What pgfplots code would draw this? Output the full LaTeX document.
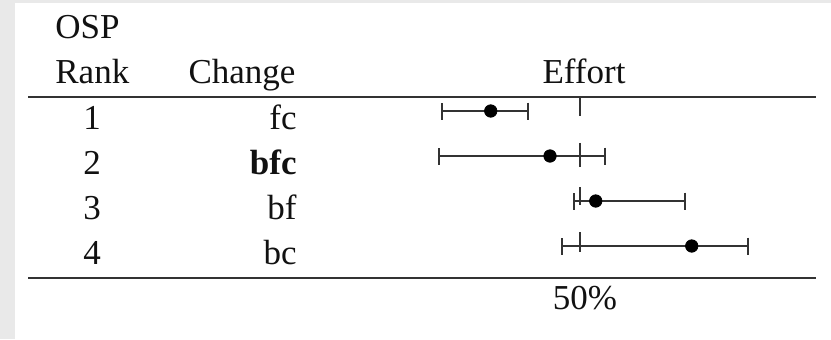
\documentclass[border=0pt]{standalone}
\usepackage{pgfplots}
\pgfplotsset{compat=1.18}
\usepackage{fontspec}
\setmainfont{Liberation Serif}
\definecolor{bggray}{HTML}{E9E9E9}
\definecolor{rulecol}{HTML}{333333}
\definecolor{txt}{HTML}{111111}
\newcommand\tf{\fontsize{17.5}{21}\selectfont}
\begin{document}
\begin{tikzpicture}
\begin{axis}[
  scale only axis, width=415.5pt, height=169.5pt,
  xmin=-46.6667, xmax=91.8333,
  ymin=-1.46667, ymax=6.06667, y dir=reverse,
  hide axis, clip=false,
]
\fill[bggray] (axis cs:-46.6667,-1.46667) rectangle (axis cs:91.8333,6.06667);
\fill[white] (axis cs:-44.1667,-1.4) rectangle (axis cs:91.8333,6.06667);
% rules
\addplot[rulecol, line width=1.1pt] coordinates {(-42,0.682) (89.33,0.682)};
\addplot[rulecol, line width=1.1pt] coordinates {(-42,4.704) (89.33,4.704)};
% 50% reference segments
\addplot[rulecol, line width=0.85pt, unbounded coords=jump] coordinates {
  (50,0.69) (50,1.11) (50,nan)
  (50,1.71) (50,2.25) (50,nan)
  (50,2.69) (50,3.09) (50,nan)
  (50,3.69) (50,4.13)};
% estimates with intervals
\addplot[only marks, mark=*, mark size=3.1pt, black,
  error bars/.cd, x dir=both, x explicit, error mark=|,
  error bar style={line width=0.85pt, rulecol},
  error mark options={rulecol, line width=1pt, mark size=4.25pt}]
coordinates {
  (35.12,1) += (6.27,0) -= (8.17,0)
  (45.00,2) += (9.17,0) -= (18.45,0)
  (52.62,3) += (14.88,0) -= (3.62,0)
  (68.62,4) += (9.43,0) -= (21.67,0)
};
% header
\node[anchor=base west, inner sep=0, font=\tf, text=txt] at (axis cs:-37.5,-0.622) {OSP};
\node[anchor=base west, inner sep=0, font=\tf, text=txt] at (axis cs:-37.5,0.378) {Rank};
\node[anchor=base, inner sep=0, font=\tf, text=txt] at (axis cs:-6.33,0.378) {Change};
\node[anchor=base, inner sep=0, font=\tf, text=txt] at (axis cs:50.67,0.378) {Effort};
% rows
\node[anchor=base, inner sep=0, font=\tf, text=txt] at (axis cs:-31.33,1.4) {1};
\node[anchor=base, inner sep=0, font=\tf, text=txt] at (axis cs:-31.33,2.4) {2};
\node[anchor=base, inner sep=0, font=\tf, text=txt] at (axis cs:-31.33,3.4) {3};
\node[anchor=base, inner sep=0, font=\tf, text=txt] at (axis cs:-31.33,4.4) {4};
\node[anchor=base east, inner sep=0, font=\tf, text=txt] at (axis cs:2.83,1.4) {fc};
\node[anchor=base east, inner sep=0, font=\tf, text=txt] at (axis cs:2.83,2.4) {\textbf{bfc}};
\node[anchor=base east, inner sep=0, font=\tf, text=txt] at (axis cs:2.83,3.4) {bf};
\node[anchor=base east, inner sep=0, font=\tf, text=txt] at (axis cs:2.83,4.4) {bc};
% footer
\node[anchor=base, inner sep=0, font=\tf, text=txt] at (axis cs:50.83,5.4) {50\%};
\end{axis}
\end{tikzpicture}
\end{document}
